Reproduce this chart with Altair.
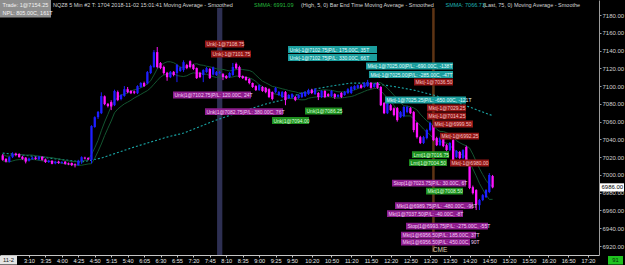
import altair as alt
import pandas as pd

# ---------------- data ----------------
BAR_START = 150   # first bar 2:30 (minutes after midnight)
BAR_STEP = 5

opens = [7022, 7018, 7015, 7020, 7024, 7023.5, 7020.5, 7019.5, 7016, 7018,
         7019.5, 7017.5, 7020.5, 7017.5, 7014.5, 7016, 7013, 7015, 7013.5, 7015,
         7013, 7013.5, 7012, 7011, 7015.5, 7019.5, 7019, 7017, 7054, 7065,
         7069.5, 7088.5, 7080, 7082, 7078.5, 7093.25, 7085.5, 7089, 7096.5, 7094.5,
         7094, 7092, 7099, 7103.5, 7103, 7114.75, 7121.5, 7138.25, 7126, 7121.5,
         7115, 7110, 7116, 7114.75, 7117, 7118, 7123.75, 7128, 7123.75, 7120.25,
         7114.75, 7112.5, 7115.75, 7119.25, 7113, 7112.5, 7114.75, 7113.5, 7111.25, 7110.25,
         7112.5, 7125, 7121.5, 7111.25, 7110.25, 7108, 7103.5, 7100, 7095.5, 7099,
         7098, 7096.5, 7093.25, 7093.25, 7090, 7087.75, 7093.25, 7086.5, 7087, 7087.75,
         7086.5, 7087.75, 7088.75, 7091, 7095.5, 7091, 7092.25, 7087.75, 7094.5, 7091,
         7088.75, 7091, 7088, 7092.25, 7090, 7092.25, 7092.25, 7096.5, 7098, 7101,
         7099, 7100, 7103.5, 7099, 7103.5, 7099, 7081, 7069.5, 7078.5, 7075,
         7075.25, 7065, 7066.25, 7070.75, 7075.25, 7070.75, 7058.5, 7042.5, 7036, 7041.5,
         7050.5, 7056, 7041.5, 7033.5, 7041.5, 7033.5, 7028, 7039.25, 7020, 7025.75,
         7019, 7031.5, 7016, 6986.25, 6983, 6966, 6971.75, 6975, 6980.75, 6998.75]
highs = [7023.5, 7019, 7021, 7025.5, 7025, 7024.5, 7021.5, 7020, 7019.5, 7020.5,
         7020.5, 7021.5, 7021, 7018.5, 7017, 7016.5, 7016, 7016, 7015.5, 7015.5,
         7014, 7014, 7013, 7017, 7021, 7020.5, 7020, 7056, 7066, 7072,
         7093, 7089.5, 7081, 7084, 7096, 7095, 7091, 7100, 7099, 7095.5,
         7095, 7101, 7104.5, 7105, 7117, 7124, 7140.5, 7144, 7127, 7123,
         7116, 7117, 7117, 7125, 7122, 7129, 7125, 7129, 7125, 7121,
         7116, 7119, 7121.5, 7120.5, 7122, 7117, 7117, 7114.75, 7112.5, 7115.75,
         7126, 7126.5, 7123, 7112, 7111, 7109, 7104, 7101, 7102, 7100,
         7099, 7097.5, 7094, 7099, 7094.5, 7094.5, 7094.5, 7091, 7092, 7089,
         7091, 7093.25, 7094.5, 7097, 7097, 7097.75, 7093.25, 7095.5, 7095.5, 7092,
         7095.5, 7092, 7091, 7093.25, 7094.5, 7097.75, 7100, 7101, 7102, 7102.25,
         7104.5, 7107, 7104.5, 7103.5, 7104.5, 7100, 7082, 7082, 7080, 7076,
         7076.5, 7072, 7077.5, 7078, 7076.5, 7072, 7059.5, 7044, 7044, 7052,
         7060, 7057, 7043, 7043, 7043, 7035, 7037, 7041, 7028, 7027,
         7029, 7033, 7017, 6988, 6984, 6973, 6978.5, 6984, 7002, 7000]
lows = [7016, 7014, 7014, 7019, 7021, 7019.5, 7017, 7013, 7015, 7017,
        7017, 7016.5, 7016, 7013.5, 7013.5, 7012, 7012, 7012.5, 7012.5, 7011.5,
        7011, 7010, 7008.5, 7010.5, 7012.5, 7017.5, 7016.5, 7013, 7053, 7063,
        7068.5, 7078.5, 7076, 7073, 7077.5, 7083, 7084, 7088, 7092, 7091,
        7091, 7091, 7098, 7099, 7102, 7113.5, 7120.5, 7120, 7119, 7113,
        7106, 7109, 7111, 7104.5, 7116, 7116, 7119, 7120, 7118, 7108,
        7109, 7104.5, 7115, 7108, 7112, 7111.5, 7113.5, 7106.75, 7108, 7109,
        7111.5, 7119, 7109, 7108, 7106, 7102, 7098, 7094.5, 7094.5, 7093.5,
        7092, 7086.5, 7084, 7092, 7089, 7086.5, 7078.5, 7085.5, 7086, 7083,
        7085.5, 7086.5, 7087.75, 7090, 7091, 7090, 7084.25, 7086.5, 7086.5, 7087.75,
        7087.75, 7085.5, 7087, 7086.5, 7089, 7091, 7091, 7095.5, 7097, 7097,
        7098, 7099, 7097, 7098, 7097, 7077.5, 7068.5, 7068.5, 7072, 7066,
        7060, 7064, 7065, 7069.5, 7068.5, 7048, 7041, 7034.75, 7034.75, 7040,
        7049, 7038, 7032.5, 7032.5, 7031.25, 7027, 7026.75, 7015.5, 7019, 7018,
        7018, 7015.5, 6984, 6978, 6960.5, 6960.5, 6970.5, 6974, 6979.5, 6985]
closes = [7017, 7015, 7020, 7024, 7022.5, 7020, 7018, 7015, 7018.5, 7019.5,
          7018, 7020.5, 7017, 7014.5, 7016, 7012.5, 7015, 7013.5, 7014.5, 7012.5,
          7012, 7011, 7011, 7016, 7020, 7018.5, 7017.5, 7055, 7065, 7071,
          7088.75, 7079.75, 7077.5, 7077, 7094.5, 7084.25, 7090, 7096.5, 7093.25, 7092,
          7092.5, 7100, 7103.5, 7100, 7115.75, 7122.5, 7138.25, 7121.5, 7120.25, 7114.75,
          7110, 7116, 7112.5, 7123.75, 7121, 7127, 7120.25, 7121.5, 7119.25, 7109,
          7110.25, 7118, 7120.25, 7109, 7121, 7115.75, 7115.75, 7110.25, 7109, 7114.75,
          7121.5, 7120, 7110.25, 7109, 7106.75, 7103.5, 7099, 7095.5, 7101, 7094.5,
          7093.25, 7087.75, 7085.5, 7097.75, 7093.25, 7093.25, 7084.25, 7090, 7091, 7084.25,
          7090, 7092.25, 7093.25, 7095.5, 7092.25, 7096.5, 7087.75, 7094.5, 7087.75, 7088.75,
          7094.5, 7087.75, 7090, 7087.75, 7093.25, 7096.5, 7099, 7100, 7101, 7098,
          7103.5, 7104.5, 7098, 7102.25, 7098, 7078.5, 7069.5, 7081, 7073, 7067.5,
          7061.75, 7070.75, 7076.5, 7076.5, 7069.5, 7050.5, 7042.5, 7036, 7042.5, 7050.5,
          7058.5, 7039.25, 7033.5, 7041.5, 7032.5, 7028, 7036, 7016.75, 7027, 7019,
          7028, 7016.75, 6985.25, 6979.5, 6967.25, 6971.75, 6977.25, 6983, 7000, 6986]

# 75-period smoothed MA (Last), read at selected bars
ma75_bars = [0, 12, 24, 30, 40, 50, 55, 65, 72, 80, 85, 90, 95, 100, 106, 112,
             116, 120, 125, 131, 137, 142, 146, 149]
ma75_vals = [7024.6, 7020.1, 7014.5, 7019.0, 7031.4, 7042.6, 7047.1, 7061.8,
             7070.8, 7079.8, 7084.3, 7091.0, 7096.7, 7100.1, 7103.4, 7103.4,
             7101.2, 7098.9, 7095.5, 7089.9, 7083.2, 7076.4, 7070.8, 7066.7]

# execution labels: text, kind, start minute, end minute, price
ann_text = ["Unk|-1@7108.75", "Unk|-1@7101.75", "Mkt|-1@7036.50", "Mkt|-1@7029.25",
            "Mkt|-1@7014.25", "Mkt|-1@6999.50", "Mkt|-1@6992.25", "Mkt|-1@6980.00",
            "Unk|-1@7102.75|P/L: 175.00C, 35T", "Unk|-1@7102.75|P/L: 330.00C, 66T",
            "Mkt|-1@7025.00|P/L: -690.00C, -138T", "Mkt|-1@7025.00|P/L: -285.00C, -47T",
            "Mkt|-1@7025.25|P/L: -650.00C, -121T",
            "Unk|1@7086.25", "Unk|1@7094.00", "Lmt|1@7016.75", "Lmt|1@7004.50", "Mkt|1@7008.50",
            "Unk|1@7102.75|P/L: 120.00C, 24T", "Unk|1@7082.75|P/L: 380.00C, 76T",
            "Stop|1@7023.75|P/L: 30.00C, 6T", "Mkt|1@6989.75|P/L: -480.00C, -96T",
            "Mkt|1@7037.50|P/L: -40.00C, -8T", "Stop|1@6993.75|P/L: -275.00C, -55T",
            "Mkt|1@6956.50|P/L: 185.00C, 37T", "Mkt|1@6956.50|P/L: 450.00C, 90T"]
ann_kind = ["sell"] * 8 + ["sellpl"] * 5 + ["buy"] * 5 + ["buypl"] * 8
ann_t0 = [457.6, 466.8, 775.5, 795.2, 795.2, 804.4, 815.0, 830.2,
          583.9, 583.9, 702.5, 707.0, 731.4,
          609.7, 559.5, 772.4, 767.9, 793.7,
          409.0, 457.6, 742.0, 746.6, 734.4, 763.3, 755.7, 755.7]
ann_t1 = [517.0, 527.6, 834.8, 854.5, 854.5, 865.2, 874.3, 889.5,
          719.2, 719.2, 834.8, 834.8, 854.5,
          666.0, 615.8, 828.7, 825.7, 850.0,
          527.6, 576.3, 854.5, 865.2, 850.0, 888.0, 869.8, 860.6]
ann_price = [7147.3, 7136.1, 7104.6, 7075.3, 7066.3, 7057.3, 7043.7, 7013.4,
             7141.1, 7132.1, 7122.6, 7113.0, 7084.3,
             7071.9, 7061.2, 7022.9, 7013.9, 6981.8,
             7089.9, 7071.3, 6990.8, 6965.5, 6956.5, 6942.4, 6932.3, 6924.4]

xtick_labels = ["3:10", "3:35", "4:00", "4:25", "4:50", "5:15", "5:40", "6:05", "6:30",
                "6:55", "7:20", "7:45", "8:10", "8:35", "9:00", "9:25", "9:50", "10:20",
                "10:50", "11:20", "11:50", "12:20", "12:50", "13:20", "13:50", "14:20",
                "14:50", "15:20", "15:50", "16:20", "16:50", "17:20"]
ytick_values = [6920, 6940, 6960, 6980, 7000, 7020, 7040, 7060, 7080, 7100,
                7120, 7140, 7160, 7180]
last_price = 6986.00
band_t = [476, 484]          # highlighted bar (8:00)
session_line_t = 805         # CME marker (13:25)

# ---------------- build ----------------
FONT = "Liberation Sans"
BLUE, MAG = "#1e1eff", "#ff12ff"
xtick_values = [int(s.split(":")[0]) * 60 + int(s.split(":")[1]) for s in xtick_labels]

candles = pd.DataFrame({
    "t": [BAR_START + BAR_STEP * i for i in range(len(opens))],
    "open": opens, "high": highs, "low": lows, "close": closes,
})
ma75 = pd.DataFrame({"t": [BAR_START + BAR_STEP * b for b in ma75_bars], "v": ma75_vals})
ann = pd.DataFrame({"text": ann_text, "kind": ann_kind, "t0": ann_t0, "t1": ann_t1,
                    "p": ann_price})

XS = alt.Scale(domain=[145.9, 1056.8], nice=False, zero=False)
YS = alt.Scale(domain=[6909.9, 7196.9], nice=False, zero=False)

x_axis = alt.Axis(values=xtick_values, title=None, grid=False,
                  labelExpr="floor(datum.value/60) + ':' + (datum.value % 60 < 10 ? '0' : '') + (datum.value % 60)",
                  domainColor="#c4c4c4", tickColor="#c4c4c4", tickSize=2,
                  labelColor="#e8e8e8", labelFontSize=5.6, labelFont=FONT,
                  labelPadding=1, labelOverlap=False, labelFlush=False, labelBound=False)
y_axis = alt.Axis(orient="right", values=ytick_values, format=".2f", title=None,
                  grid=False, domainColor="#9c9c9c", tickColor="#9c9c9c", tickSize=2,
                  labelColor="#d0d0d0", labelFontSize=6, labelFont=FONT,
                  labelPadding=1, labelOverlap=False, labelFlush=False, labelBound=False)

def X(f):
    return alt.X(f, scale=XS, axis=x_axis)

def Y(f):
    return alt.Y(f, scale=YS, axis=y_axis)

band = alt.Chart(pd.DataFrame({"a": [band_t[0]], "b": [band_t[1]]})).mark_rect(
    color="#2d2f52").encode(
    x=X("a:Q"), x2="b:Q", y=Y("lo:Q"), y2="hi:Q"
).transform_calculate(lo="6909.9", hi="7187.9")

cme = alt.Chart(pd.DataFrame({"t": [session_line_t]})).mark_rule(
    color="#5e3414", strokeWidth=2.5).encode(
    x=X("t:Q"), y=alt.value(8), y2=alt.value(252))

ma75_line = alt.Chart(ma75).mark_line(color="#1aa7a7", strokeWidth=1.1,
                                       strokeDash=[2, 2]).encode(x=X("t:Q"), y=Y("v:Q"))

smma = alt.Chart(candles).transform_window(
    hi5="mean(high)", lo5="mean(low)", frame=[-6, 0], sort=[{"field": "t"}])
smma_hi = smma.mark_line(color="#135530", strokeWidth=1).encode(x=X("t:Q"), y=Y("hi5:Q"))
smma_lo = smma.mark_line(color="#135530", strokeWidth=1).encode(x=X("t:Q"), y=Y("lo5:Q"))

col = alt.condition("datum.close >= datum.open", alt.value(BLUE), alt.value(MAG))
wicks = alt.Chart(candles).mark_rule(strokeWidth=1).encode(
    x=X("t:Q"), y=Y("low:Q"), y2="high:Q", color=col)
bodies = alt.Chart(candles).mark_rule(strokeWidth=2.3).encode(
    x=X("t:Q"), y=Y("open:Q"), y2="close:Q", color=col)

fill_expr = ("datum.kind == 'sell' ? '#911515' : datum.kind == 'sellpl' ? '#1b9e9e' : "
             "datum.kind == 'buy' ? '#1f8f1f' : '#8d1d8d'")
text_expr = ("datum.kind == 'sell' ? '#f7c4c4' : datum.kind == 'sellpl' ? '#e4ffff' : "
             "datum.kind == 'buy' ? '#d9ffd9' : '#f7cdf7'")
boxes = alt.Chart(ann).transform_calculate(
    lo="datum.p - 3.9", hi="datum.p + 3.9", fc=fill_expr).mark_rect().encode(
    x=X("t0:Q"), x2="t1:Q", y=Y("lo:Q"), y2="hi:Q",
    color=alt.Color("fc:N", scale=None))
labels = alt.Chart(ann).transform_calculate(tc=text_expr).mark_text(
    align="left", baseline="middle", dx=1.5, fontSize=5, font=FONT).encode(
    x=X("t0:Q"), y=Y("p:Q"), text="text:N",
    color=alt.Color("tc:N", scale=None))

cme_text = alt.Chart(pd.DataFrame({"t": [815], "p": [6915.8], "s": ["CME"]})).mark_text(
    fontSize=6.5, font=FONT, color="#dccdb0", baseline="middle").encode(
    x=X("t:Q"), y=Y("p:Q"), text="s:N")

# header (layout, pixel positions)
hdr = pd.DataFrame({
    "s": ["Trade: 1@7154.25",
          "NQZ8  5 Min  #2 T: 1704  2018-11-02 15:01:41  Moving Average - Smoothed",
          "SMMA: 6991.09",
          "(High, 5, 0)  Bar End Time  Moving Average - Smoothed",
          "SMMA: 7066.73",
          "(Last, 75, 0)  Moving Average - Smoothe",
          "NPL: 805.00C, 161T"],
    "px": [2.5, 53, 254, 301, 445.5, 483, 2.5],
    "py": [4.5, 4.5, 4.5, 4.5, 4.5, 4.5, 13],
    "c": ["#f2f2f2", "#d4d4d4", "#25b83c", "#d4d4d4", "#1fb3b3", "#d4d4d4", "#f2f2f2"],
})
hdr_bg = alt.Chart(pd.DataFrame({"x": [0, 0], "x2": [51, 51], "y": [0, 9], "y2": [9, 17.5]})
                   ).mark_rect(color="#8e8e8e").encode(
    x=alt.X("x:Q", scale=None, axis=None), x2="x2:Q",
    y=alt.Y("y:Q", scale=None, axis=None), y2="y2:Q")
hdr_text = alt.Chart(hdr).mark_text(align="left", baseline="middle", fontSize=5.5,
                                    font=FONT).encode(
    x=alt.X("px:Q", scale=None, axis=None), y=alt.Y("py:Q", scale=None, axis=None),
    text="s:N", color=alt.Color("c:N", scale=None))

# right-axis price marker
pbox = alt.Chart(pd.DataFrame({"p": [last_price]})).transform_calculate(
    lo="datum.p - 4.6", hi="datum.p + 4.6").mark_rect(color="#ffffff").encode(
    x=alt.value(600), x2=alt.value(624), y=Y("lo:Q"), y2="hi:Q")
ptext = alt.Chart(pd.DataFrame({"p": [last_price]})).mark_text(
    align="left", baseline="middle", fontSize=6, font=FONT, color="#000000").encode(
    x=alt.value(601.5), y=Y("p:Q"), text=alt.Text("p:Q", format=".2f"))

# bottom corner boxes
date_box = alt.Chart(pd.DataFrame({"s": ["11-2"]})).mark_rect(color="#e4e4e4").encode(
    x=alt.value(0), x2=alt.value(17), y=alt.value(256), y2=alt.value(264.5))
date_txt = alt.Chart(pd.DataFrame({"s": ["11-2"]})).mark_text(
    fontSize=5.8, font=FONT, color="#202020", baseline="middle").encode(
    x=alt.value(8.5), y=alt.value(260.3), text="s:N")
cnt_box = alt.Chart(pd.DataFrame({"s": ["91"]})).mark_rect(color="#1fc21f").encode(
    x=alt.value(608), x2=alt.value(623), y=alt.value(256), y2=alt.value(264.5))
cnt_txt = alt.Chart(pd.DataFrame({"s": ["91"]})).mark_text(
    fontSize=5.8, font=FONT, color="#0a2a0a", baseline="middle").encode(
    x=alt.value(615.5), y=alt.value(260.3), text="s:N")

chart = alt.layer(
    band, cme, ma75_line, smma_hi, smma_lo, wicks, bodies, boxes, labels, cme_text,
    hdr_bg, hdr_text, pbox, ptext, date_box, date_txt, cnt_box, cnt_txt
).properties(
    width=599, height=255,
    padding={"left": 0, "top": 0, "right": 26, "bottom": 10},
    autosize=alt.AutoSizeParams(type="none"),
).configure(background="#000000").configure_view(strokeWidth=0).configure_axis(
    labelOverlap=False, labelFlush=False, labelBound=False, grid=False)

chart.save("out.html", embed_options={"renderer": "svg", "actions": False})
